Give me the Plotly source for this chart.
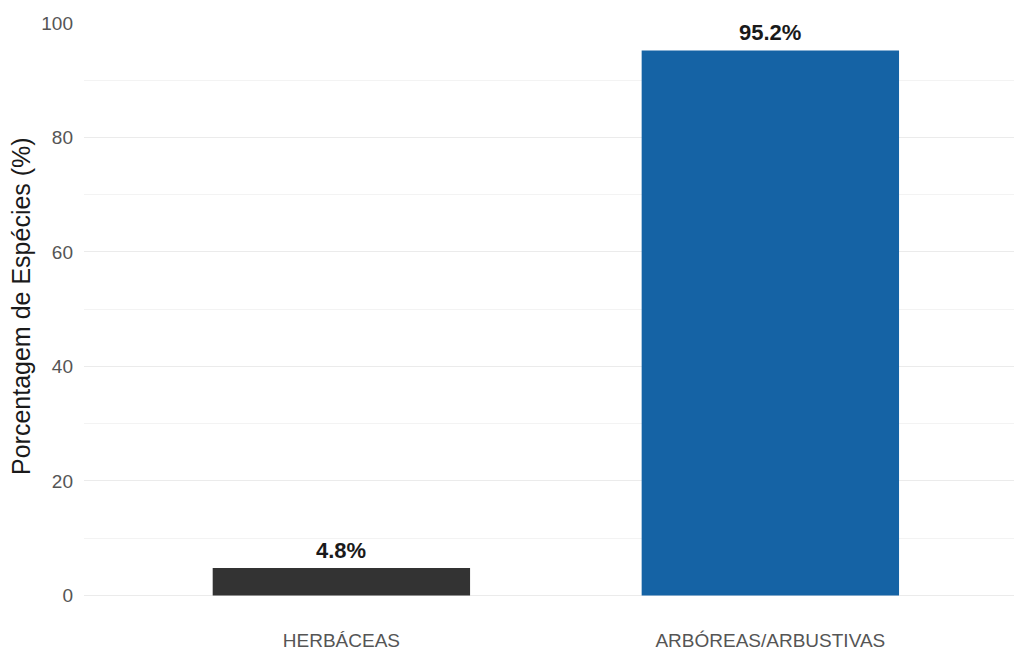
import plotly.graph_objects as go

categories = ["HERBÁCEAS", "ARBÓREAS/ARBUSTIVAS"]
values = [4.8, 95.2]
labels = ["4.8%", "95.2%"]
colors = ["#333333", "#1563a5"]
y_ticks = [0, 20, 40, 60, 80, 100]
y_minor = [10, 30, 50, 70, 90]

fig = go.Figure()
fig.add_trace(go.Bar(
    x=categories, y=values, width=0.6,
    marker=dict(color=colors, line=dict(width=0)),
    hoverinfo="skip",
))
for c, v, t in zip(categories, values, labels):
    fig.add_annotation(x=c, y=v, text=f"<b>{t}</b>", showarrow=False,
                       yanchor="bottom", yshift=3,
                       font=dict(family="Liberation Sans, Arial", size=22, color="#1a1a1a"))

# y axis title as rotated annotation (positioned like the reference)
fig.add_annotation(xref="paper", yref="paper", x=(21 - 84) / 930, y=(624 - 306) / 601,
                   text="Porcentagem de Espécies (%)", textangle=-90, showarrow=False,
                   xanchor="center", yanchor="middle",
                   font=dict(family="Liberation Sans, Arial", size=25, color="#1a1a1a"))

fig.update_layout(
    width=1014, height=653,
    margin=dict(l=84, r=0, t=23, b=29, autoexpand=False),
    paper_bgcolor="white", plot_bgcolor="white",
    showlegend=False,
    font=dict(family="Liberation Sans, Arial"),
    xaxis=dict(
        type="category", range=[-0.6, 1.568], automargin=False,
        showgrid=False, zeroline=False, showline=False, ticks="",
        tickfont=dict(size=19, color="#555555"),
        ticklabelstandoff=3,
    ),
    yaxis=dict(
        range=[-5, 100], tickvals=y_ticks, automargin=False,
        showgrid=True, gridcolor="#ebebeb", gridwidth=1,
        minor=dict(tickvals=y_minor, showgrid=True, gridcolor="#f3f3f3", gridwidth=1),
        zeroline=False, showline=False, ticks="",
        tickfont=dict(size=19, color="#555555"),
        ticklabelstandoff=10,
    ),
)

fig.write_html("out.html")
